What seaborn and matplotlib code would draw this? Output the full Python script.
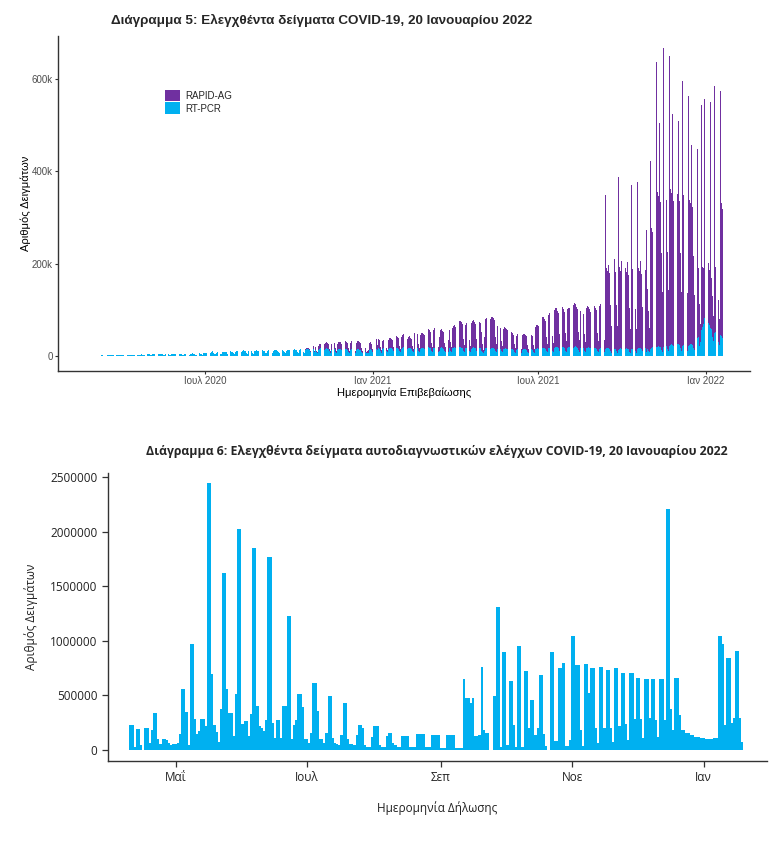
import numpy as np
import pandas as pd
import matplotlib
matplotlib.use("Agg")
import matplotlib.pyplot as plt
import matplotlib.dates as mdates
import seaborn as sns

# ---------------------------------------------------------------------------
# Διάγραμμα 5: daily tested samples (thousands), one row per week Mon..Sun
pcr_start = "2020-03-02"
pcr_k = [
    [0.3, 0.4, 0.5, 0.6, 0.6, 0.4, 0.3],
    [0.8, 0.9, 1.0, 1.1, 1.0, 0.6, 0.5],
    [1.2, 1.4, 1.5, 1.5, 1.4, 0.9, 0.7],
    [1.5, 1.7, 1.8, 1.9, 1.7, 1.1, 0.8],
    [1.8, 2.0, 2.1, 2.1, 2.0, 1.2, 0.9],
    [2.0, 2.1, 2.3, 2.2, 2.0, 1.3, 1.0],
    [2.1, 2.3, 2.4, 2.4, 1.8, 1.0, 0.8],
    [2.4, 2.7, 2.9, 2.8, 2.6, 1.6, 1.2],
    [2.8, 3.1, 3.3, 3.2, 2.9, 1.8, 1.3],
    [3.2, 3.5, 3.7, 3.5, 3.3, 2.0, 1.5],
    [3.5, 3.9, 4.0, 3.8, 3.5, 2.2, 1.6],
    [3.6, 4.0, 4.2, 4.0, 3.7, 2.3, 1.7],
    [3.8, 4.2, 4.5, 4.2, 3.9, 2.4, 1.8],
    [4.0, 4.4, 4.6, 4.4, 4.1, 2.5, 1.9],
    [4.2, 4.7, 4.9, 4.6, 4.2, 2.7, 2.0],
    [4.4, 4.9, 5.1, 4.8, 4.4, 2.8, 2.1],
    [4.7, 5.3, 5.5, 5.1, 4.7, 3.0, 2.2],
    [5.4, 6.1, 6.4, 6.0, 5.5, 3.5, 2.6],
    [6.2, 7.0, 7.3, 11.0, 6.4, 4.1, 3.0],
    [6.9, 7.8, 8.2, 7.7, 7.1, 4.6, 3.4],
    [7.4, 8.4, 8.8, 8.2, 7.6, 4.9, 3.6],
    [8.0, 9.1, 9.5, 8.9, 8.2, 5.3, 3.9],
    [8.6, 9.8, 10.2, 9.6, 8.9, 5.8, 4.3],
    [9.1, 10.4, 13.5, 10.2, 9.4, 6.1, 4.5],
    [9.5, 10.9, 11.4, 10.7, 9.9, 6.4, 4.8],
    [9.9, 11.3, 11.8, 11.1, 10.3, 6.7, 5.0],
    [10.2, 11.6, 12.2, 11.4, 10.6, 6.9, 5.1],
    [10.4, 11.9, 12.5, 16.0, 10.9, 7.1, 5.3],
    [10.7, 12.2, 12.8, 12.0, 11.1, 7.3, 5.4],
    [11.0, 12.6, 13.2, 12.3, 11.4, 7.5, 5.6],
    [11.3, 12.9, 13.5, 12.6, 11.7, 7.7, 5.7],
    [11.7, 13.4, 14.0, 13.1, 12.2, 8.0, 5.9],
    [12.1, 13.9, 17.0, 13.6, 12.6, 8.3, 6.1],
    [12.6, 14.4, 15.1, 14.1, 13.1, 8.6, 6.4],
    [13.0, 14.9, 15.6, 9.0, 13.5, 8.9, 6.6],
    [13.4, 15.3, 16.1, 15.0, 14.0, 9.2, 6.8],
    [13.6, 15.6, 16.4, 15.3, 14.2, 9.4, 7.0],
    [13.3, 15.3, 16.1, 15.0, 13.9, 9.2, 6.9],
    [12.9, 14.8, 15.5, 14.5, 13.5, 8.9, 6.7],
    [12.6, 14.5, 15.2, 14.2, 13.2, 8.7, 6.5],
    [12.3, 14.1, 14.8, 13.8, 12.9, 8.5, 6.4],
    [12.1, 13.9, 14.6, 13.6, 12.7, 8.4, 6.3],
    [12.6, 14.4, 13.1, 8.0, 5.0, 6.0, 7.0],
    [13.1, 14.6, 13.6, 8.1, 5.5, 7.0, 6.5],
    [14.1, 15.6, 12.0, 16.1, 14.6, 9.5, 7.0],
    [14.6, 16.1, 16.9, 15.7, 14.7, 9.7, 7.2],
    [15.0, 16.6, 17.4, 16.2, 15.1, 10.0, 7.4],
    [15.3, 16.9, 17.7, 16.5, 15.4, 10.2, 7.6],
    [15.5, 17.1, 18.0, 16.8, 15.6, 10.3, 7.7],
    [15.2, 16.8, 17.6, 16.4, 15.3, 10.1, 7.5],
    [15.8, 17.5, 18.3, 17.1, 15.9, 10.5, 7.8],
    [15.4, 17.0, 17.8, 16.6, 15.5, 10.2, 7.6],
    [15.9, 17.6, 18.4, 17.2, 16.0, 10.6, 7.9],
    [16.1, 17.8, 18.7, 17.4, 16.2, 10.7, 8.0],
    [11.0, 17.3, 18.1, 16.9, 15.8, 10.4, 7.8],
    [15.9, 17.5, 16.8, 9.0, 15.9, 10.5, 7.8],
    [16.0, 17.7, 18.5, 17.3, 16.1, 10.6, 7.9],
    [16.4, 18.1, 19.0, 17.7, 16.5, 10.9, 8.1],
    [16.1, 17.8, 18.6, 17.4, 16.2, 10.7, 8.0],
    [15.8, 17.4, 18.3, 17.0, 15.9, 10.5, 7.8],
    [15.2, 16.8, 17.6, 16.4, 11.0, 8.0, 5.0],
    [10.0, 16.9, 17.7, 16.5, 15.4, 10.2, 7.6],
    [15.3, 16.9, 17.7, 16.5, 15.3, 10.1, 7.5],
    [14.6, 16.1, 16.9, 15.7, 14.7, 9.7, 7.2],
    [14.0, 15.5, 16.2, 15.1, 14.1, 9.3, 6.9],
    [13.4, 14.8, 15.5, 14.5, 13.5, 8.9, 6.6],
    [13.0, 14.4, 15.1, 14.1, 13.1, 8.7, 6.4],
    [13.2, 14.6, 15.3, 14.3, 13.3, 8.8, 6.5],
    [10.0, 14.9, 15.6, 14.5, 13.5, 8.9, 6.6],
    [14.2, 15.7, 16.5, 15.4, 14.3, 9.5, 7.0],
    [15.2, 16.8, 17.6, 16.4, 15.3, 10.1, 7.5],
    [16.0, 17.7, 18.5, 17.3, 16.1, 10.6, 7.9],
    [16.8, 18.6, 19.5, 18.2, 16.9, 11.2, 8.3],
    [17.2, 19.0, 19.9, 18.6, 17.3, 11.4, 8.5],
    [16.9, 18.7, 19.6, 18.3, 17.0, 11.2, 8.3],
    [17.5, 19.3, 20.2, 18.9, 17.6, 11.6, 8.6],
    [16.4, 18.1, 18.9, 17.7, 16.5, 10.9, 8.1],
    [16.0, 17.7, 18.5, 17.3, 16.1, 10.6, 7.9],
    [15.5, 17.1, 17.9, 16.7, 15.6, 10.3, 7.6],
    [15.0, 16.6, 17.4, 16.2, 15.1, 10.0, 7.4],
    [14.0, 16.0, 17.0, 16.0, 15.0, 10.0, 7.0],
    [14.0, 15.5, 16.5, 15.5, 14.5, 9.5, 7.0],
    [13.5, 15.0, 16.0, 15.0, 14.0, 9.0, 6.5],
    [13.5, 15.0, 16.0, 15.0, 14.0, 9.0, 6.5],
    [14.0, 15.5, 16.5, 15.5, 14.5, 9.5, 7.0],
    [14.5, 16.0, 17.0, 16.0, 15.0, 10.0, 7.0],
    [15.0, 16.5, 17.5, 9.0, 15.5, 10.0, 7.5],
    [15.0, 17.0, 18.0, 17.0, 16.0, 11.0, 8.0],
    [18.0, 20.0, 21.0, 20.0, 19.0, 13.0, 9.0],
    [20.0, 22.0, 23.0, 22.0, 21.0, 14.0, 10.0],
    [22.0, 24.0, 25.0, 24.0, 22.0, 15.0, 11.0],
    [23.0, 25.0, 26.0, 25.0, 23.0, 16.0, 11.0],
    [22.0, 24.0, 25.0, 24.0, 22.0, 15.0, 11.0],
    [22.0, 24.0, 26.0, 25.0, 24.0, 17.0, 12.0],
    [26.0, 30.0, 34.0, 38.0, 40.0, 22.0, 30.0],
    [55.0, 62.0, 70.0, 82.0, 65.0, 48.0, 50.0],
    [68.0, 72.0, 66.0, 60.0, 58.0, 40.0, 32.0],
    [50.0, 52.0, 48.0, 45.0, 42.0, 30.0, 24.0],
    [45.0, 42.0, 38.0],
]

rapid_start = "2020-10-12"
rapid_k = [
    [0, 0, 0, 0.5, 0.8, 0.3, 0.2],
    [1.5, 2.0, 2.5, 2.6, 2.2, 1.0, 0.6],
    [4.0, 5.0, 5.5, 2.0, 4.5, 2.5, 1.5],
    [8.0, 10.0, 10.5, 10.0, 9.0, 5.0, 3.0],
    [11.0, 13.0, 13.5, 12.5, 11.5, 6.0, 3.5],
    [13.0, 15.0, 15.0, 14.0, 13.0, 7.0, 4.0],
    [13.5, 15.5, 15.5, 14.5, 13.0, 7.0, 4.0],
    [14.0, 16.0, 16.5, 15.0, 14.0, 7.5, 4.5],
    [15.0, 17.0, 17.5, 16.0, 15.0, 8.0, 5.0],
    [15.5, 17.5, 18.0, 16.5, 15.0, 8.0, 5.0],
    [15.0, 16.0, 14.0, 8.0, 3.0, 5.0, 6.0],
    [14.0, 15.0, 13.0, 7.0, 3.0, 6.0, 5.0],
    [19.0, 21.0, 12.0, 20.0, 19.0, 9.0, 6.0],
    [17.0, 19.0, 19.0, 18.0, 17.0, 8.0, 5.0],
    [20.0, 22.0, 22.0, 21.0, 20.0, 10.0, 6.0],
    [23.0, 26.0, 26.0, 24.0, 23.0, 11.0, 7.0],
    [26.0, 29.0, 29.0, 27.0, 25.0, 12.0, 8.0],
    [22.0, 24.0, 25.0, 23.0, 22.0, 11.0, 7.0],
    [33.0, 35.0, 36.0, 34.0, 32.0, 16.0, 10.0],
    [29.0, 32.0, 32.0, 30.0, 29.0, 14.0, 9.0],
    [37.0, 40.0, 40.0, 38.0, 36.0, 18.0, 11.0],
    [39.0, 43.0, 43.0, 41.0, 39.0, 19.0, 12.0],
    [30.0, 39.0, 39.0, 37.0, 35.0, 17.0, 11.0],
    [42.0, 46.0, 44.0, 25.0, 40.0, 20.0, 12.0],
    [45.0, 48.0, 48.0, 46.0, 44.0, 22.0, 13.0],
    [54.0, 57.0, 57.0, 55.0, 52.0, 25.0, 15.0],
    [51.0, 54.0, 54.0, 52.0, 50.0, 24.0, 14.0],
    [56.0, 59.0, 59.0, 56.0, 54.0, 26.0, 16.0],
    [53.0, 56.0, 55.0, 54.0, 40.0, 18.0, 8.0],
    [30.0, 64.0, 64.0, 62.0, 60.0, 28.0, 17.0],
    [65.0, 68.0, 67.0, 65.0, 62.0, 30.0, 18.0],
    [49.0, 51.0, 50.0, 48.0, 46.0, 22.0, 14.0],
    [44.0, 46.0, 45.0, 43.0, 41.0, 20.0, 12.0],
    [34.0, 36.0, 36.0, 34.0, 32.0, 16.0, 10.0],
    [30.0, 32.0, 31.0, 30.0, 28.0, 14.0, 9.0],
    [31.0, 33.0, 32.0, 31.0, 29.0, 14.0, 9.0],
    [20.0, 33.0, 32.0, 31.0, 29.0, 14.0, 9.0],
    [49.0, 52.0, 51.0, 49.0, 47.0, 23.0, 14.0],
    [65.0, 68.0, 67.0, 64.0, 61.0, 30.0, 18.0],
    [72.0, 75.0, 74.0, 70.0, 67.0, 33.0, 20.0],
    [83.0, 86.0, 84.0, 80.0, 76.0, 37.0, 22.0],
    [86.0, 88.0, 86.0, 82.0, 78.0, 38.0, 23.0],
    [84.0, 86.0, 84.0, 80.0, 76.0, 37.0, 22.0],
    [92.0, 95.0, 93.0, 88.0, 84.0, 41.0, 25.0],
    [80.0, 82.0, 80.0, 78.0, 74.0, 36.0, 22.0],
    [88.0, 90.0, 88.0, 84.0, 80.0, 39.0, 24.0],
    [90.0, 93.0, 91.0, 87.0, 83.0, 40.0, 25.0],
    [92.0, 95.0, 93.0, 89.0, 85.0, 42.0, 26.0],
    [335, 175, 168, 182, 165, 100, 58],
    [382, 182, 172, 195, 168, 100, 58],
    [375, 178, 168, 190, 165, 98, 55],
    [356, 175, 165, 188, 162, 95, 52],
    [356, 172, 165, 185, 160, 92, 52],
    [362, 175, 168, 190, 162, 95, 55],
    [371, 178, 168, 263, 130, 88, 52],
    [407, 260, 250, 274, 245, 150, 90],
    [620, 335, 325, 485, 315, 210, 130],
    [647, 340, 330, 507, 318, 212, 132],
    [628, 338, 328, 500, 315, 210, 130],
    [620, 335, 325, 484, 312, 208, 128],
    [575, 325, 315, 454, 305, 205, 125],
    [542, 315, 305, 433, 298, 200, 120],
    [535, 295, 285, 410, 150, 90, 40],
    [490, 130, 120, 475, 60, 40, 55],
    [585, 130, 120, 490, 110, 90, 55],
    [535, 140, 130, 365, 120, 90, 55],
    [530, 290, 280],
]

# Διάγραμμα 6: self-test samples per declaration day (thousands), from 10/4/2021
self_start = "2021-04-10"
self_k = [
    [230, 230, 25, 195, 195, 45, 0],
    [198, 198, 65, 183, 342, 342, 105],
    [55, 105, 105, 92, 67, 43, 55],
    [55, 60, 147, 556, 556, 352, 43],
    [972, 972, 281, 147, 170, 281, 281],
    [220, 2445, 2445, 697, 229, 168, 76],
    [373, 1625, 1625, 556, 336, 336, 128],
    [514, 2023, 2023, 238, 268, 268, 128],
    [327, 1849, 1849, 403, 220, 198, 174],
    [275, 1772, 1772, 250, 110, 275, 275],
    [110, 403, 403, 1228, 1228, 98, 229],
    [275, 514, 514, 397, 98, 98, 61],
    [153, 614, 614, 361, 98, 98, 61],
    [153, 495, 495, 107, 61, 55, 46],
    [137, 434, 434, 98, 55, 55, 50],
    [137, 229, 229, 200, 46, 31, 31],
    [122, 220, 220, 220, 46, 24, 24],
    [128, 153, 153, 61, 50, 24, 24],
    [131, 131, 131, 131, 31, 31, 31],
    [147, 147, 147, 147, 24, 24, 24],
    [140, 140, 140, 140, 15, 15, 15],
    [137, 137, 137, 137, 15, 15, 15],
    [15, 648, 481, 481, 434, 481, 128],
    [128, 137, 764, 183, 153, 153, 0],
    [0, 495, 1314, 1314, 24, 901, 901],
    [46, 635, 635, 229, 24, 953, 953],
    [24, 727, 727, 199, 458, 458, 137],
    [199, 687, 687, 150, 40, 0, 901],
    [901, 80, 80, 749, 749, 800, 40],
    [40, 92, 1045, 1045, 779, 779, 183],
    [40, 788, 788, 519, 751, 751, 205],
    [61, 757, 757, 205, 736, 736, 205],
    [70, 748, 748, 220, 709, 709, 235],
    [92, 709, 709, 281, 660, 660, 281],
    [110, 648, 648, 290, 648, 648, 275],
    [116, 648, 648, 275, 2206, 2206, 380],
    [183, 660, 660, 321, 183, 183, 153],
    [153, 137, 137, 122, 122, 122, 107],
    [107, 98, 98, 98, 98, 107, 107],
    [1048, 1048, 969, 229, 840, 840, 244],
    [290, 907, 907, 290, 75],
]

RAPID_COL = "#7030A0"
PCR_COL = "#00B0F0"


def to_daily(rows, start, label):
    vals = [v * 1000 for row in rows for v in row]
    dates = pd.date_range(start, periods=len(vals), freq="D")
    return pd.DataFrame({"date": dates, "samples": vals, "type": label})


tests = pd.concat([to_daily(rapid_k, rapid_start, "RAPID-AG"),
                   to_daily(pcr_k, pcr_start, "RT-PCR")], ignore_index=True)
selftests = to_daily(self_k, self_start, "self")

sns.set_style("ticks")
plt.rcParams["font.family"] = ["Liberation Sans", "DejaVu Sans"]

fig = plt.figure(figsize=(7.8, 8.49), dpi=100)

# ---------------- top panel ----------------
ax1 = fig.add_axes([58 / 780, 1 - 371 / 849, 692 / 780, 335 / 849])
sns.histplot(data=tests, x="date", weights="samples", hue="type",
             hue_order=["RAPID-AG", "RT-PCR"], multiple="stack", discrete=True,
             shrink=0.75, palette={"RAPID-AG": RAPID_COL, "RT-PCR": PCR_COL},
             alpha=1, linewidth=0, ax=ax1)
# empty stacked bins (no rapid tests before Oct 2020) would leave hairlines
for p in ax1.patches:
    if abs(p.get_height()) < 1:
        p.set_visible(False)

d0 = mdates.date2num(pd.Timestamp(pcr_start))
ax1.set_xlim(d0 - 40.5, d0 + 718.2)
ax1.set_ylim(-33000, 694000)
ax1.set_yticks([0, 200000, 400000, 600000])
ax1.set_yticklabels(["0", "200k", "400k", "600k"])
xt = [pd.Timestamp(s) for s in ["2020-07-01", "2021-01-01", "2021-07-01", "2022-01-01"]]
ax1.set_xticks(mdates.date2num(xt))
ax1.set_xticklabels(["Ιουλ 2020", "Ιαν 2021", "Ιουλ 2021", "Ιαν 2022"])
ax1.tick_params(axis="both", labelsize=7, labelcolor="#4D4D4D", color="#333333",
                length=2.2, width=0.8, pad=1.5)
sns.despine(ax=ax1)
for s in ["left", "bottom"]:
    ax1.spines[s].set_color("#333333")
    ax1.spines[s].set_linewidth(1.0)
ax1.set_xlabel("Ημερομηνία Επιβεβαίωσης", fontsize=8, color="black")
ax1.set_ylabel("Αριθμός Δειγμάτων", fontsize=8, color="black")
ax1.xaxis.set_label_coords(0.5, -0.05)
ax1.yaxis.set_label_coords(-0.039, 0.5)
sns.move_legend(ax1, "upper left", bbox_to_anchor=(0.155, 0.84), title=None,
                frameon=False, fontsize=7, handlelength=1.5, handleheight=1.5,
                labelspacing=0.1, borderpad=0, borderaxespad=0, handletextpad=0.6)

fig.text(111 / 780, 1 - 20 / 849,
         "Διάγραμμα 5: Ελεγχθέντα δείγματα COVID-19, 20 Ιανουαρίου 2022",
         ha="left", va="center", fontsize=9.7, fontweight="bold")

# ---------------- bottom panel ----------------
bfont = ["Open Sans", "DejaVu Sans"]
ax2 = fig.add_axes([108 / 780, 1 - 761 / 849, 658.7 / 780, 288 / 849])
sns.histplot(data=selftests, x="date", weights="samples", discrete=True,
             shrink=1.0, color=PCR_COL, alpha=1, linewidth=0, ax=ax2)
for p in ax2.patches:
    if abs(p.get_height()) < 1:
        p.set_visible(False)

s0 = mdates.date2num(pd.Timestamp(self_start))
ax2.set_xlim(s0 - 10.4, s0 + 295.3)
ax2.set_ylim(-101000, 2539000)
ax2.set_yticks([0, 500000, 1000000, 1500000, 2000000, 2500000])
ax2.set_yticklabels(["0", "500000", "1000000", "1500000", "2000000", "2500000"],
                    fontfamily=bfont)
xt2 = [pd.Timestamp(s) for s in ["2021-05-01", "2021-07-01", "2021-09-01",
                                 "2021-11-01", "2022-01-01"]]
ax2.set_xticks(mdates.date2num(xt2))
ax2.set_xticklabels(["Μαΐ", "Ιουλ", "Σεπ", "Νοε", "Ιαν"], fontfamily=bfont)
ax2.tick_params(axis="both", labelsize=8.5, labelcolor="#222222", color="#333333",
                length=4.5, width=0.9, pad=3)
sns.despine(ax=ax2)
for s in ["left", "bottom"]:
    ax2.spines[s].set_color("#333333")
    ax2.spines[s].set_linewidth(1.0)
ax2.set_xlabel("Ημερομηνία Δήλωσης", fontsize=8.5, fontfamily=bfont, color="#222222")
ax2.set_ylabel("Αριθμός Δειγμάτων", fontsize=8.5, fontfamily=bfont, color="#222222")
ax2.xaxis.set_label_coords(0.5, -0.139)
ax2.yaxis.set_label_coords(-0.106, 0.5)

fig.text(437 / 780, 1 - 452 / 849,
         "Διάγραμμα 6: Ελεγχθέντα δείγματα αυτοδιαγνωστικών ελέγχων COVID-19, 20 Ιανουαρίου 2022",
         ha="center", va="center", fontsize=8.8, fontweight="bold", fontfamily=bfont)

fig.savefig("out.png", dpi=100)
